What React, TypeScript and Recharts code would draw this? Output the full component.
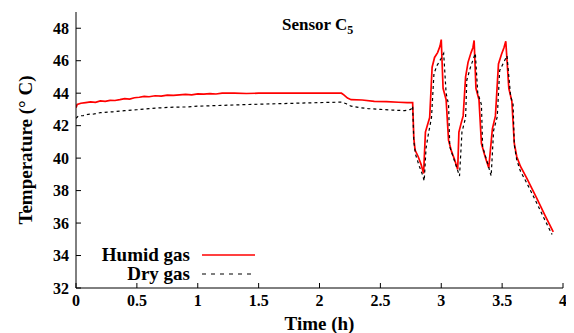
import React from 'react';
import { LineChart, Line, XAxis, YAxis, Legend } from 'recharts';

// Humid gas trace (time in h, temperature in °C)
const humidTime = [
  0, 0.01, 0.04, 0.08, 0.12, 0.16, 0.2, 0.24, 0.28, 0.32, 0.36, 0.4, 0.44, 0.48, 0.52, 0.56, 0.6, 0.65, 0.7,
  0.75, 0.8, 0.85, 0.9, 0.95, 1.0, 1.05, 1.1, 1.15, 1.2, 1.3, 1.4, 1.5, 1.6, 1.7, 1.8, 1.9, 2.0, 2.1, 2.18,
  2.2, 2.23, 2.26, 2.35, 2.45, 2.55, 2.65, 2.72, 2.765, 2.775, 2.785, 2.81, 2.835, 2.855,
  2.87, 2.885, 2.905, 2.925, 2.945, 2.97, 2.99, 3.0, 3.015, 3.04, 3.06, 3.085, 3.11, 3.135,
  3.145, 3.165, 3.18, 3.2, 3.22, 3.245, 3.26, 3.27, 3.285, 3.31, 3.33, 3.36, 3.39,
  3.42, 3.445, 3.47, 3.495, 3.515, 3.53, 3.555, 3.58, 3.6, 3.62, 3.65, 3.7, 3.78, 3.85, 3.92,
];
const humidTemp = [
  43.1, 43.3, 43.38, 43.42, 43.46, 43.44, 43.52, 43.5, 43.56, 43.55, 43.6, 43.66, 43.64, 43.72, 43.75, 43.8, 43.78, 43.84, 43.82,
  43.88, 43.86, 43.9, 43.92, 43.9, 43.96, 43.94, 43.97, 43.95, 44.0, 44.0, 43.98, 44.0, 44.0, 44.0, 44.0, 44.0, 44.0, 44.0, 44.0,
  43.9, 43.7, 43.6, 43.58, 43.5, 43.48, 43.44, 43.42, 43.42, 41.2, 40.5, 40.1, 39.6, 39.05,
  41.6, 42.0, 42.5, 45.6, 46.2, 46.5, 46.9, 47.3, 44.3, 43.6, 41.1, 40.4, 39.9, 39.3,
  41.6, 42.2, 42.6, 45.0, 45.9, 46.5, 46.8, 47.25, 44.3, 43.6, 40.9, 40.1, 39.4,
  41.8, 42.6, 45.8, 46.4, 46.8, 47.2, 44.3, 43.5, 40.9, 40.1, 39.5, 38.8, 37.6, 36.5, 35.45,
];

// Dry gas trace
const dryTime = [
  0, 0.02, 0.06, 0.1, 0.15, 0.2, 0.3, 0.4, 0.5, 0.6, 0.7, 0.8, 0.9, 1.0, 1.2, 1.4, 1.6, 1.8, 2.0, 2.18,
  2.22, 2.26, 2.32, 2.4, 2.5, 2.6, 2.7, 2.75, 2.765, 2.775, 2.79, 2.82, 2.845, 2.86,
  2.875, 2.89, 2.92, 2.94, 2.965, 3.0, 3.02, 3.04, 3.06, 3.07, 3.11, 3.15,
  3.17, 3.2, 3.21, 3.24, 3.27, 3.28, 3.3, 3.33, 3.34, 3.38, 3.41,
  3.43, 3.46, 3.48, 3.52, 3.54, 3.57, 3.59, 3.6, 3.62, 3.65, 3.7, 3.78, 3.85, 3.91,
];
const dryTemp = [
  42.45, 42.6, 42.62, 42.7, 42.72, 42.8, 42.85, 42.92, 42.98, 43.05, 43.1, 43.14, 43.15, 43.2, 43.25, 43.3, 43.34, 43.38, 43.42, 43.45,
  43.35, 43.2, 43.12, 43.05, 43.0, 42.96, 42.92, 43.0, 43.2, 41.0, 40.2, 39.5, 39.0, 38.6,
  40.6, 41.3, 42.5, 45.2, 45.7, 46.15, 46.45, 44.0, 43.3, 40.7, 39.8, 38.9,
  41.6, 42.5, 44.8, 45.6, 46.25, 46.45, 44.0, 43.3, 40.7, 39.7, 38.9,
  41.7, 42.55, 45.4, 46.0, 46.3, 43.8, 43.3, 40.8, 39.9, 39.2, 38.5, 37.3, 36.2, 35.3,
];

const xTicks = [0, 0.5, 1, 1.5, 2, 2.5, 3, 3.5, 4];
const yTicks = [32, 34, 36, 38, 40, 42, 44, 46, 48];

const humidData = humidTime.map((t, i) => ({ t, v: humidTemp[i] }));
const dryData = dryTime.map((t, i) => ({ t, v: dryTemp[i] }));

const FONT = '"Liberation Serif", "Times New Roman", serif';
const tickStyle = { fill: '#000', fontSize: 16, fontWeight: 'bold' as const, fontFamily: FONT };

const LegendBox = () => (
  <div style={{ fontFamily: FONT, fontWeight: 'bold', fontSize: 19, lineHeight: '19px', color: '#000' }}>
    <div style={{ display: 'flex', alignItems: 'center', height: 19 }}>
      <span style={{ width: 110, textAlign: 'right' }}>Humid gas</span>
      <svg width={54} height={10} style={{ marginLeft: 12 }}>
        <line x1={0} y1={5} x2={53} y2={5} stroke="#ff0000" strokeWidth={1.5} />
      </svg>
    </div>
    <div style={{ display: 'flex', alignItems: 'center', height: 19 }}>
      <span style={{ width: 110, textAlign: 'right' }}>Dry gas</span>
      <svg width={54} height={10} style={{ marginLeft: 12 }}>
        <line x1={0} y1={5} x2={53} y2={5} stroke="#000" strokeWidth={1.2} strokeDasharray="4 5" />
      </svg>
    </div>
  </div>
);

export default function App() {
  return (
    <div style={{ position: 'relative', width: 566, height: 325, fontFamily: FONT }}>
      <LineChart width={566} height={325} margin={{ top: 4, right: 11, bottom: 0, left: 0 }}>
        <XAxis
          dataKey="t"
          type="number"
          domain={[0, 4]}
          ticks={xTicks}
          height={45}
          stroke="#000"
          tickSize={-5}
          tickMargin={12}
          tick={tickStyle}
          allowDataOverflow
          label={{ value: 'Time (h)', position: 'insideBottom', offset: 3, fill: '#000', fontSize: 19, fontWeight: 'bold', fontFamily: FONT }}
        />
        <XAxis xAxisId="top" orientation="top" dataKey="t" type="number" domain={[0, 4]} ticks={xTicks} height={0} stroke="#000" tickSize={-5} tick={false} />
        <YAxis
          type="number"
          domain={[32, 49]}
          ticks={yTicks}
          width={68}
          stroke="#000"
          tickSize={-5}
          tickMargin={12}
          tick={tickStyle}
          allowDataOverflow
          label={{ value: 'Temperature (° C)', angle: -90, position: 'center', dx: -17, fill: '#000', fontSize: 19, fontWeight: 'bold', fontFamily: FONT }}
        />
        <YAxis yAxisId="right" orientation="right" type="number" domain={[32, 49]} ticks={yTicks} width={0} stroke="#000" tickSize={-5} tick={false} />
        <Line data={humidData} dataKey="v" stroke="#ff0000" strokeWidth={1.7} dot={false} isAnimationActive={false} />
        <Line data={dryData} dataKey="v" stroke="#000" strokeWidth={1.2} strokeDasharray="3 3" dot={false} isAnimationActive={false} />
        <Legend
          layout="horizontal"
          verticalAlign="middle"
          align="center"
          wrapperStyle={{ left: 72, top: 237, width: 190 }}
          content={() => <LegendBox />}
        />
      </LineChart>
      <div style={{ position: 'absolute', left: 274, top: 7, fontFamily: FONT, fontWeight: 'bold', fontSize: 17, color: '#000' }}>
        Sensor C<sub style={{ fontSize: 12 }}>5</sub>
      </div>
    </div>
  );
}
